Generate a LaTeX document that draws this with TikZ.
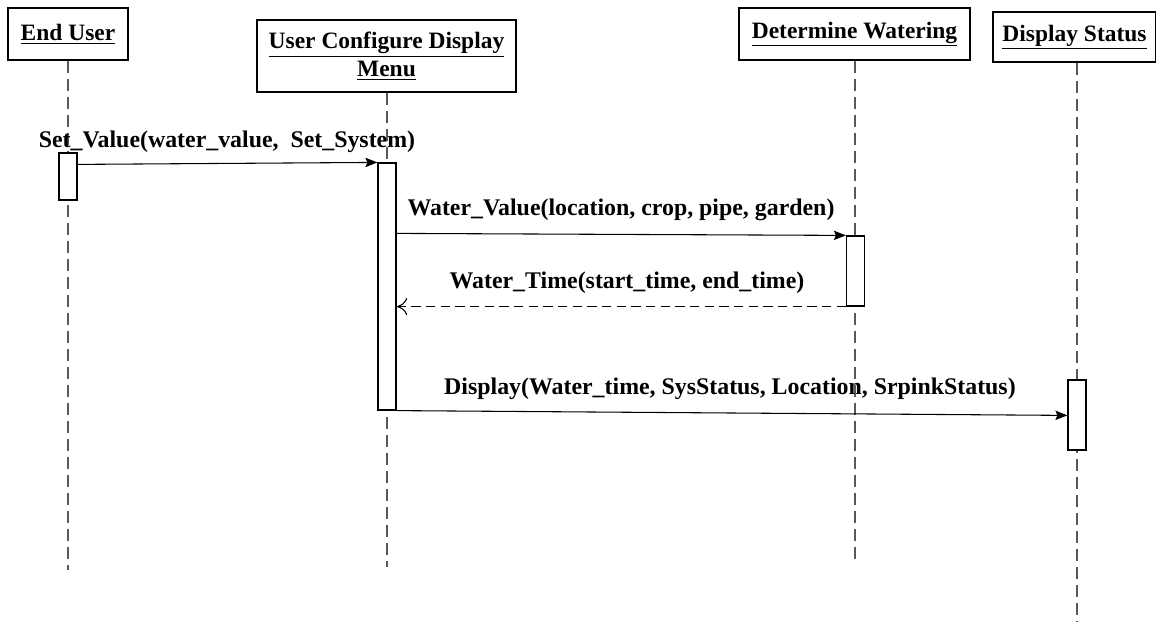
\documentclass[tikz,border=0pt]{standalone}
\usepackage{fontspec}
\setmainfont{Liberation Serif}
\usetikzlibrary{calc,arrows.meta}
\begin{document}
\begin{tikzpicture}[x=0.75pt,y=-0.75pt,
  every node/.style={font=\fontsize{17.6}{21}\selectfont\bfseries},
  header/.style={draw, line width=1pt, inner sep=0pt, align=center},
  actbox/.style={draw, line width=0.9pt, fill=white, inner sep=0pt, minimum width=13.5pt},
  lifeline/.style={draw=black!65, line width=1pt, dash pattern=on 9pt off 4.5pt},
  msg/.style={line width=0.8pt, -{Stealth[length=9pt,width=7pt,inset=1.5pt]}},
  ret/.style={line width=0.8pt, dash pattern=on 7pt off 4pt, -{To[length=8pt,width=13pt]}},
  lbl/.style={inner sep=0pt, anchor=base, font=\fontsize{17.9}{21}\selectfont\bfseries}]
\useasboundingbox (0,0) rectangle (1156,621);
\clip (0,0) rectangle (1156,621);
% headers
\node[header, minimum width=90pt, minimum height=39pt] (eu) at (68,34) {\underline{End User}};
\node[header, minimum width=194.25pt, minimum height=54pt] (ucd) at (386.5,56) {\underline{User Configure Display}\\\underline{Menu}};
\node[header, minimum width=173.25pt, minimum height=39pt] (dw) at (854.5,34) {\underline{Determine Watering}};
\node[header, minimum width=122.25pt, minimum height=37.5pt] (ds) at (1074.5,37) {\underline{Display Status}};
% lifeline ends
\coordinate (eue) at (68,570);
\coordinate (ucde) at (387,567);
\coordinate (dwe) at (855,560);
\coordinate (dse) at (1077,625);
\draw[lifeline] (eu.south) -- (eue);
\draw[lifeline] (ucd.south -| ucde) -- (ucde);
\draw[lifeline] (dw.south -| dwe) -- (dwe);
\draw[lifeline] (ds.south -| dse) -- (dse);
% activations
\node[actbox, minimum height=35.25pt] (a1) at (68,176.5) {};
\node[actbox, minimum height=185.25pt] (a2) at (387,286.5) {};
\node[actbox, minimum height=52.5pt] (a3) at (855.5,271) {};
\node[actbox, minimum height=52.5pt] (a4) at (1077,415) {};
% messages
\draw[msg] ($(a1.north east)+(0,12)$) -- (a2.north west);
\node[lbl] (l1) at (227,147) {Set\_Value(water\_value,\ \ Set\_System)};
\draw[msg] ($(a2.north east)+(0,71)$) -- (a3.north west);
\node[lbl] (l2) at (621,215) {Water\_Value(location, crop, pipe, garden)};
\draw[ret] (a3.south west) -- (a3.south west -| a2.east);
\node[lbl] (l3) at (627,288) {Water\_Time(start\_time, end\_time)};
\draw[msg] (a2.south east) -- ($(a4.north west)+(0,36)$);
\node[lbl] (l4) at (730,394) {Display(Water\_time, SysStatus, Location, SrpinkStatus)};
\end{tikzpicture}
\end{document}
